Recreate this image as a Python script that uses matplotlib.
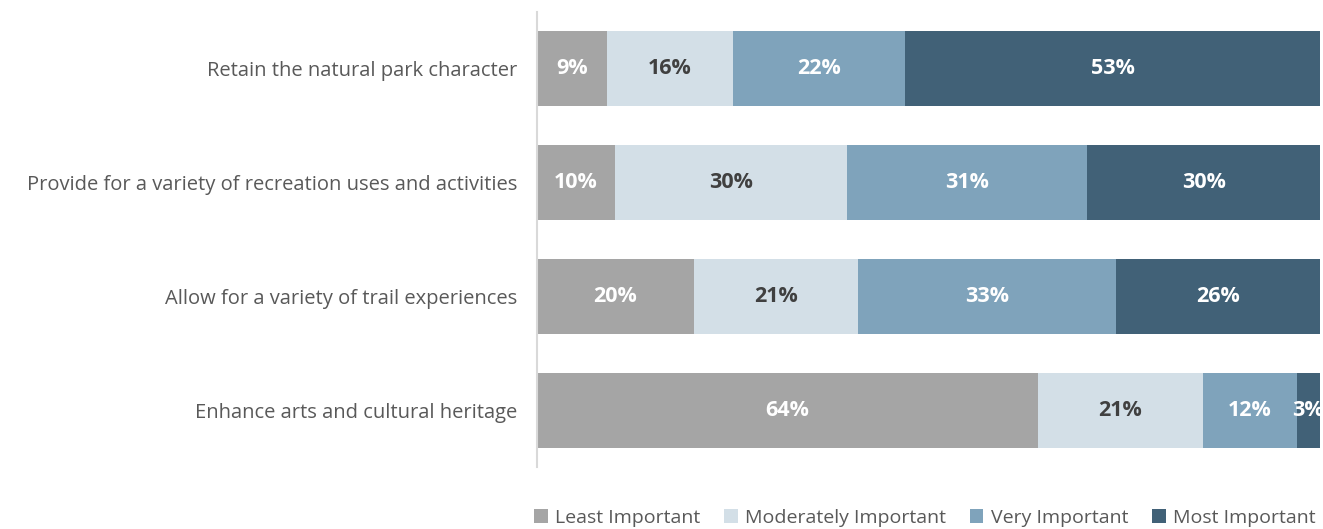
import matplotlib.pyplot as plt
import numpy as np

categories = [
    "Retain the natural park character",
    "Provide for a variety of recreation uses and activities",
    "Allow for a variety of trail experiences",
    "Enhance arts and cultural heritage",
]
series_names = ["Least Important", "Moderately Important", "Very Important", "Most Important"]
least = [9, 10, 20, 64]
moderately = [16, 30, 21, 21]
very = [22, 31, 33, 12]
most = [53, 30, 26, 3]

colors = ["#A5A5A5", "#D3DFE7", "#7FA3BB", "#416177"]
label_colors = ["white", "#404040", "white", "white"]

plt.rcParams["font.family"] = ["Open Sans", "DejaVu Sans"]

data = np.array([least, moderately, very, most], dtype=float)
totals = data.sum(axis=0)
shares = data / totals * 100

fig = plt.figure(figsize=(13.23, 5.29), dpi=100)
ax = fig.add_axes([537 / 1323, 1 - 467 / 529, 783 / 1323, 455 / 529])

y = np.arange(len(categories))
left = np.zeros(len(categories))
for i, name in enumerate(series_names):
    bars = ax.barh(y, shares[i], left=left, height=0.656, color=colors[i], label=name)
    for j, b in enumerate(bars):
        ax.text(
            b.get_x() + b.get_width() / 2,
            b.get_y() + b.get_height() / 2,
            f"{int(data[i, j])}%",
            ha="center",
            va="center",
            color=label_colors[i],
            fontsize=15.5,
            fontweight="bold",
        )
    left += shares[i]

ax.set_xlim(0, 100)
ax.set_ylim(len(categories) - 0.51, -0.49)
ax.set_yticks(y)
ax.set_yticklabels(categories, fontsize=14.5, color="#595959")
ax.tick_params(axis="y", length=0, pad=14)
ax.set_xticks([])
for side in ["top", "right", "bottom"]:
    ax.spines[side].set_visible(False)
ax.spines["left"].set_color("#D9D9D9")
ax.spines["left"].set_linewidth(1.5)

fig.legend(
    loc="center",
    bbox_to_anchor=(925 / 1323, 1 - 518 / 529),
    ncol=4,
    frameon=False,
    fontsize=14,
    handlelength=0.7,
    handleheight=0.7,
    handletextpad=0.4,
    columnspacing=1.2,
    labelcolor="#595959",
)

fig.savefig("out.png", dpi=100)
